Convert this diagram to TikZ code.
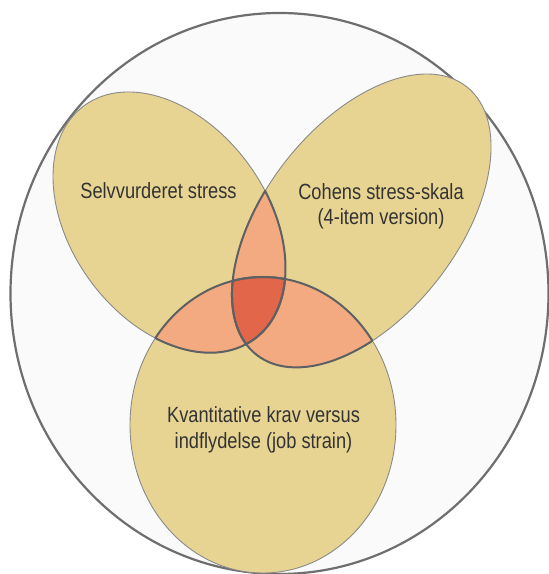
\documentclass[tikz,border=0pt]{standalone}
\usepackage{fontspec}
\setmainfont{Liberation Sans}[FakeStretch=0.83]
\definecolor{bgfill}{HTML}{FAFAFA}
\definecolor{outerline}{HTML}{6E6E6E}
\definecolor{tanfill}{HTML}{E8D492}
\definecolor{lensfill}{HTML}{F4AA81}
\definecolor{corefill}{HTML}{E2674A}
\definecolor{thinline}{HTML}{8A8A8A}
\definecolor{thickline}{HTML}{5E6163}
\definecolor{txt}{HTML}{333333}
\newcommand\EllA{(169.25,351.65) ellipse [x radius=144.4, y radius=98.3]}
\newcommand\EllB{(361.5,353.3) ellipse [x radius=170.3, y radius=96.4]}
\newcommand\EllC{(263,149) ellipse [x radius=133, y radius=148]}
\begin{document}
\begin{tikzpicture}[x=1bp,y=1bp,
  rotA/.style={rotate around={-54.06:(169.25,351.65)}},
  rotB/.style={rotate around={51.95:(361.5,353.3)}},
  rotC/.style={},
  thinedge/.style={draw=thinline,line width=0.9bp},
  thickedge/.style={draw=thickline,line width=2bp},
  lbl/.style={text=txt,font=\fontsize{22bp}{26bp}\selectfont,align=center,inner sep=0pt}]
\useasboundingbox (0,0) rectangle (549,574);
% outer frame
\path[fill=bgfill,draw=outerline,line width=2.2bp] (279.5,280.5) ellipse [x radius=269, y radius=280.5];
% base fills
\fill[tanfill,rotA] \EllA;
\fill[tanfill,rotB] \EllB;
\fill[tanfill,rotC] \EllC;
% pairwise overlaps
\begin{scope}\clip[rotA] \EllA; \fill[lensfill,rotB] \EllB;\end{scope}
\begin{scope}\clip[rotA] \EllA; \fill[lensfill,rotC] \EllC;\end{scope}
\begin{scope}\clip[rotB] \EllB; \fill[lensfill,rotC] \EllC;\end{scope}
% triple overlap
\begin{scope}\clip[rotA] \EllA; \clip[rotB] \EllB; \fill[corefill,rotC] \EllC;\end{scope}
% thin outlines
\path[thinedge,rotA] \EllA;
\path[thinedge,rotB] \EllB;
\path[thinedge,rotC] \EllC;
% thick outlines inside other sets
\begin{scope}\clip[rotB] \EllB; \path[thickedge,rotA] \EllA; \path[thickedge,rotC] \EllC;\end{scope}
\begin{scope}\clip[rotA] \EllA; \path[thickedge,rotB] \EllB; \path[thickedge,rotC] \EllC;\end{scope}
\begin{scope}\clip[rotC] \EllC; \path[thickedge,rotA] \EllA; \path[thickedge,rotB] \EllB;\end{scope}
% labels
\node[lbl,anchor=base] (selv) at (158.5,375.7) {Selvvurderet stress};
\node[lbl,anchor=base] (cohen) at (381,374.7) {Cohens stress-skala};
\node[lbl,anchor=base] (cohen2) at (381,349) {(4-item version)};
\node[lbl,anchor=base] (kvant) at (263.5,151) {Kvantitative krav versus};
\node[lbl,anchor=base] (kvant2) at (263.5,125) {indflydelse (job strain)};
\end{tikzpicture}
\end{document}
